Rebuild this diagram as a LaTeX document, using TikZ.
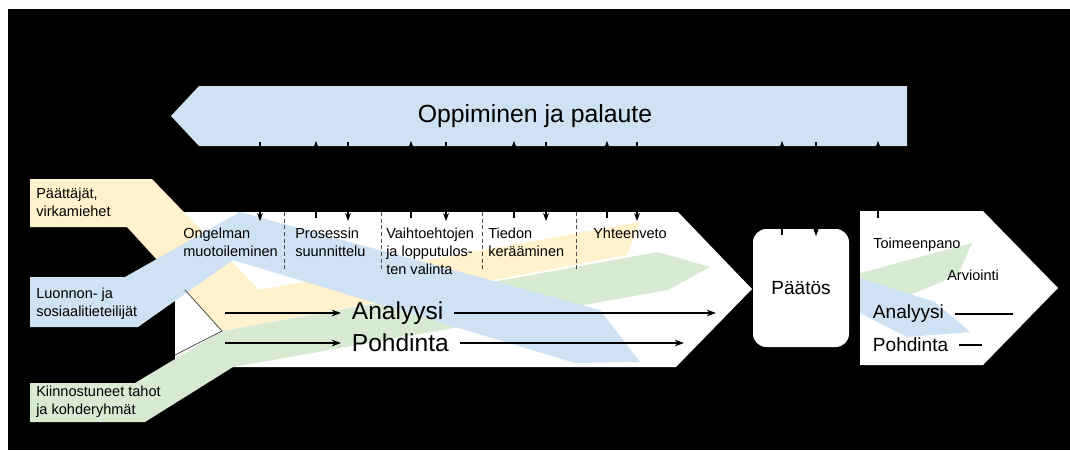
\documentclass[tikz,border=0pt]{standalone}
\usepackage{fontspec}
\setmainfont{Liberation Sans}
\usetikzlibrary{arrows.meta}

\definecolor{bandyellow}{HTML}{FFF2CC}
\definecolor{bandblue}{HTML}{CFE2F3}
\definecolor{bandgreen}{HTML}{D9EAD3}

\tikzset{
  lbl/.style={inner sep=0pt, anchor=west, align=left, font=\fontsize{10.9}{13.5}\selectfont},
  big/.style={inner xsep=8pt, inner ysep=0pt, anchor=west, font=\fontsize{18.4}{22}\selectfont},
  mid/.style={inner xsep=8pt, inner ysep=0pt, anchor=west, font=\fontsize{14.3}{17}\selectfont},
  sepline/.style={densely dashed, gray!60!black, line width=0.4pt},
  fbarrow/.style={-{Stealth[length=6pt,width=4.5pt]}, line width=0.8pt},
  flow/.style={-{Stealth[length=7pt,width=5pt]}, line width=1pt},
}

\begin{document}
\begin{tikzpicture}[x=0.75pt,y=-0.75pt]
        \useasboundingbox (0,0) rectangle (1070,450);
        \fill[black] (8,9) rectangle (1070,450);

        % feedback banner
        \fill[bandblue] (171,116) -- (199,86) -- (907,86) -- (907,146) -- (199,146) -- cycle;
        \node[font=\fontsize{18.6}{22}\selectfont] (oppi) at (535,116) {Oppiminen ja palaute};

        % main process and the bands of the actors
        \fill[white] (175,212) -- (678,212) -- (752,289) -- (676,367) -- (175,367) -- cycle;
        \fill[bandyellow] (30,179) -- (152,179) -- (259,290) -- (640,222) -- (627,255)
            -- (222,331) -- (127,227) -- (30,227) -- cycle;
        \fill[bandgreen] (30,383) -- (135,383) -- (222,331) -- (658,252) -- (710,267)
            -- (668,290) -- (233,367) -- (145,422) -- (30,422) -- cycle;
        \fill[bandblue] (30,277) -- (125,277) -- (240,212) -- (600,310) -- (640,362)
            -- (575,363) -- (233,260) -- (138,327) -- (30,327) -- cycle;
        \draw[gray!60!black, line width=0.6pt] (185,290) -- (222,331) -- (175,355);

        % decision and follow-up
        \node[fill=white, rounded corners=10pt, minimum width=72pt, minimum height=88.5pt,
            font=\fontsize{14.3}{17}\selectfont] (paatos) at (801,288) {Päätös};
        \fill[white] (860,211) -- (983,211) -- (1058,288) -- (983,365) -- (860,365) -- cycle;
        \fill[bandgreen] (860,273) -- (972,243) -- (958,275) -- (912,294) -- (860,312) -- cycle;
        \fill[bandblue] (860,278) -- (935,302) -- (970,332) -- (907,337) -- (860,313) -- cycle;

        \foreach \x in {284,381,482,576}
            \draw[sepline] (\x,212) -- (\x,271);

        \node[lbl] (ongelma) at (183,242) {Ongelman\\muotoileminen};
        \node[lbl] (prosessi) at (295,242) {Prosessin\\suunnittelu};
        \node[lbl] (vaihto) at (386,251) {Vaihtoehtojen\\ja lopputulos-\\ten valinta};
        \node[lbl] (tieto) at (488,242) {Tiedon\\kerääminen};
        \node[lbl] (yhteen) at (593,233) {Yhteenveto};

        \node[lbl] (paattajat) at (36,202) {Päättäjät,\\virkamiehet};
        \node[lbl] (luonnon) at (36,304) {Luonnon- ja\\sosiaalitieteilijät};
        \node[lbl] (kiinn) at (36,402) {Kiinnostuneet tahot\\ja kohderyhmät};

        \node[lbl] (toimeen) at (873,245) {Toimeenpano};
        \node[lbl] (arvio) at (947,275) {Arviointi};

        % analysis and reflection
        \node[big] (ana) at (341,313) {Analyysi};
        \node[big] (pohd) at (341,343) {Pohdinta};
        \coordinate (ana-in) at (225,313);
        \coordinate (ana-out) at (716,313);
        \coordinate (pohd-in) at (225,343);
        \coordinate (pohd-out) at (684,343);
        \draw[flow] (ana-in) -- (ana.west);
        \draw[flow] (ana.east) -- (ana-out);
        \draw[flow] (pohd-in) -- (pohd.west);
        \draw[flow] (pohd.east) -- (pohd-out);

        \node[mid] (ana2) at (862,314) {Analyysi};
        \node[mid] (pohd2) at (862,345) {Pohdinta};
        \coordinate (ana2-end) at (1013,314);
        \coordinate (pohd2-end) at (982,345);
        \draw[line width=1pt] (ana2.east) -- (ana2-end);
        \draw[line width=1pt] (pohd2.east) -- (pohd2-end);

        % arrows to and from the feedback
        \foreach \x/\lo in {316/218,411/218,514/218,607/218,782/235,878/218} {
            \coordinate (up-\x) at (\x,\lo);
            \coordinate (fb-\x) at (\x,141);
            \draw[fbarrow] (up-\x) -- (fb-\x);
        }
        \foreach \x/\lo in {260/221,348/221,446/221,546/221,637/221,816/236} {
            \coordinate (fbd-\x) at (\x,142);
            \coordinate (dn-\x) at (\x,\lo);
            \draw[fbarrow] (fbd-\x) -- (dn-\x);
        }
\end{tikzpicture}
\end{document}
